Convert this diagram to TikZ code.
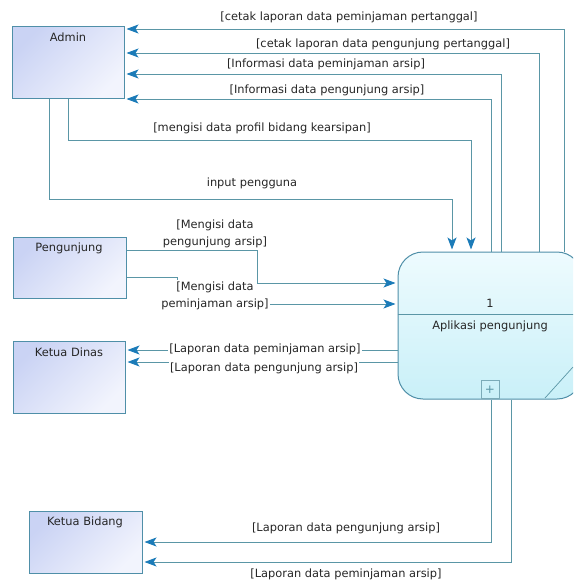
\documentclass[tikz,border=0pt]{standalone}
\usepackage{fontspec}
\setmainfont{DejaVu Sans}
\usetikzlibrary{arrows.meta,calc}
\definecolor{linecol}{HTML}{5A96A6}
\definecolor{arrowcol}{HTML}{1B7BB8}
\definecolor{boxedge}{HTML}{4F8FA8}
\definecolor{entA}{HTML}{CAD3F4}
\definecolor{entB}{HTML}{F2F4FD}
\definecolor{procA}{HTML}{EEFBFE}
\definecolor{procB}{HTML}{C9F0F8}
\tikzset{
  txt/.style={font=\fontsize{11.4}{17}\selectfont, text=black!85, inner sep=1.5pt},
  wlbl/.style={txt, fill=white},
  entity/.style={draw=boxedge, line width=1pt, left color=entA, right color=entB, shading angle=45, inner sep=0pt},
  flow/.style={draw=linecol, line width=0.9pt, -{Stealth[length=12pt,width=9pt,inset=3pt,color=arrowcol]}, shorten >=2pt},
  plain/.style={draw=linecol, line width=0.9pt},
}
\begin{document}
\begin{tikzpicture}[x=1pt,y=-1pt]
\useasboundingbox (0,0) rectangle (573,583);
\clip (0,0) rectangle (573,583);
% entities
\node[entity, minimum width=112pt, minimum height=72pt] (admin) at (68,63) {};
\node[txt] (adminT) at (68,37) {Admin};
\node[entity, minimum width=113pt, minimum height=61pt] (peng) at (69.5,267.5) {};
\node[txt] (pengT) at (69,248) {Pengunjung};
\node[entity, minimum width=112pt, minimum height=72pt] (kd) at (69,377) {};
\node[txt] (kdT) at (69,352) {Ketua Dinas};
\node[entity, minimum width=113pt, minimum height=62pt] (kb) at (85.5,542) {};
\node[txt] (kbT) at (85,522) {Ketua Bidang};
% process
\node[draw=boxedge, line width=1pt, rounded corners=25pt, top color=procA, bottom color=procB, minimum width=184pt, minimum height=147pt, inner sep=0pt] (proc) at (490,325.5) {};
\node[txt] (pnum) at (490,303) {1};
\node[txt] (pname) at (490,326) {Aplikasi pengunjung};
\draw[plain, line width=0.8pt] (proc.west |- 0,314) -- (proc.east |- 0,314);
\node[draw=linecol!80, line width=0.6pt, minimum width=18pt, minimum height=18pt, inner sep=0pt, font=\fontsize{12}{12}\selectfont, text=linecol] (plus) at (490,389.5) {+};
\draw[plain, line width=0.7pt] (545,398) -- (573,367);
% coordinates on process top
\coordinate (t1) at (proc.north -| 564,0);
\coordinate (t2) at (proc.north -| 539,0);
\coordinate (t3) at (proc.north -| 501,0);
\coordinate (t4) at (proc.north -| 491,0);
\coordinate (t5) at (proc.north -| 471,0);
\coordinate (t6) at (proc.north -| 452,0);
% to admin
\draw[flow] (t1) -- (564,29) -- (admin.east |- 0,29);
\draw[flow] (t2) -- (539,53) -- (admin.east |- 0,53);
\draw[flow] (t3) -- (501,74) -- (admin.east |- 0,74);
\draw[flow] (t4) -- (491,99) -- (admin.east |- 0,99);
\node[txt] (l1) at (349,17) {[cetak laporan data peminjaman pertanggal]};
\node[txt] (l2) at (383,44) {[cetak laporan data pengunjung pertanggal]};
\node[txt] (l3) at (326,64) {[Informasi data peminjaman arsip]};
\node[txt] (l4) at (327,90) {[Informasi data pengunjung arsip]};
% from admin
\draw[flow] (admin.south -| 68,0) -- (68,140) -- (471,140) -- (t5);
\draw[flow] (admin.south -| 49,0) -- (49,199) -- (452,199) -- (t6);
\node[txt] (l5) at (262,128) {[mengisi data profil bidang kearsipan]};
\node[txt] (l6) at (252,183) {input pengguna};
% pengunjung
\draw[flow] (peng.east |- 0,277) -- (177,277) -- (177,304) -- (proc.west |- 0,304);
\node[wlbl, align=center] (l8) at (215,296) {[Mengisi data\\peminjaman arsip]};
\draw[flow] (peng.east |- 0,250) -- (257,250) -- (257,283) -- (proc.west |- 0,283);
\node[txt, align=center] (l7) at (215,234) {[Mengisi data\\pengunjung arsip]};
% ketua dinas
\draw[flow] (proc.west |- 0,350) -- (kd.east |- 0,350);
\draw[flow] (proc.west |- 0,362) -- (kd.east |- 0,362);
\node[wlbl] (l9) at (265,349) {[Laporan data peminjaman arsip]};
\node[wlbl] (l10) at (264,368) {[Laporan data pengunjung arsip]};
% ketua bidang
\draw[flow] (proc.south -| 491,0) -- (491,542) -- (kb.east |- 0,542);
\draw[flow] (proc.south -| 511,0) -- (511,562) -- (kb.east |- 0,562);
\node[txt] (l11) at (346,528) {[Laporan data pengunjung arsip]};
\node[txt] (l12) at (346,574) {[Laporan data peminjaman arsip]};
\end{tikzpicture}
\end{document}
